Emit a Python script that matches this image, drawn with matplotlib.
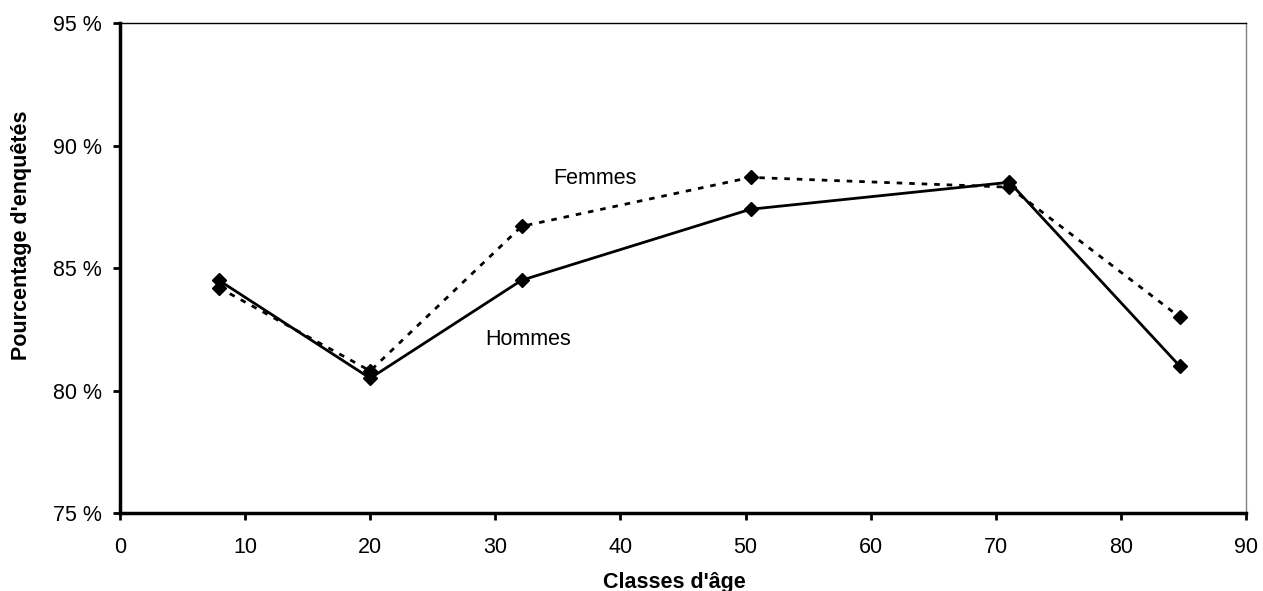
import matplotlib
matplotlib.use("Agg")
import matplotlib.pyplot as plt
from matplotlib.ticker import FuncFormatter

plt.rcParams['font.family'] = ['Liberation Sans', 'DejaVu Sans']

ages = [7.9, 20.0, 32.1, 50.4, 71.1, 84.7]
hommes = [84.5, 80.5, 84.5, 87.4, 88.5, 81.0]
femmes = [84.2, 80.8, 86.7, 88.7, 88.3, 83.0]

fig = plt.figure(figsize=(12.63, 5.91), dpi=100)
ax = fig.add_axes([0.095, 0.132, 0.8915, 0.829])

ax.plot(ages, femmes, color='black', lw=2, ls=(0, (2, 2.5)),
        marker='D', ms=7, mfc='black', mec='black')
ax.plot(ages, hommes, color='black', lw=2, ls='-',
        marker='D', ms=7, mfc='black', mec='black')

ax.text(38.0, 88.67, 'Femmes', fontsize=15.5, ha='center', va='center')
ax.text(32.6, 82.1, 'Hommes', fontsize=15.5, ha='center', va='center')

ax.set_xlim(0, 90)
ax.set_ylim(75, 95)
ax.set_xticks(range(0, 91, 10))
ax.set_yticks(range(75, 96, 5))
ax.yaxis.set_major_formatter(FuncFormatter(lambda v, p: '%d %%' % v))

ax.spines['left'].set_linewidth(2.5)
ax.spines['bottom'].set_linewidth(2.5)
ax.spines['top'].set_linewidth(1)
ax.spines['right'].set_linewidth(1)
ax.spines['right'].set_color('#808080')

ax.tick_params(axis='both', labelsize=15.5, width=2, length=5, direction='out')
ax.tick_params(axis='y', pad=8)
ax.tick_params(axis='x', pad=12)

ax.set_xlabel("Classes d'âge", fontsize=15.5, fontweight='bold', va='center')
ax.set_ylabel("Pourcentage d'enquêtés", fontsize=15.5, fontweight='bold', va='center')
ax.xaxis.set_label_coords(0.492, -0.141)
ax.yaxis.set_label_coords(-0.0875, 0.567)

fig.savefig('out.png', dpi=100)
